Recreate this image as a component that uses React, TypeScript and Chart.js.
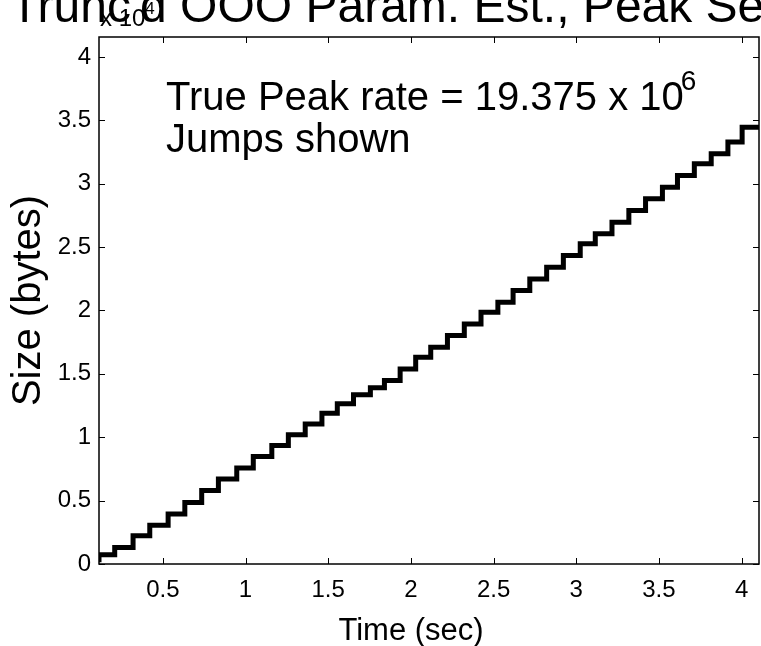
import React, { useEffect, useRef } from "react";
import { Chart, registerables } from "chart.js";

Chart.register(...registerables);

// Step times (sec) at which the cumulative size jumps
const stepTimes = [
  0.209, 0.32, 0.421, 0.532, 0.633, 0.735, 0.836, 0.947, 1.047, 1.159,
  1.259, 1.361, 1.462, 1.555, 1.653, 1.755, 1.84, 1.935, 2.029, 2.12,
  2.221, 2.323, 2.424, 2.526, 2.618, 2.719, 2.821, 2.922, 3.024, 3.115,
  3.216, 3.318, 3.419, 3.521, 3.612, 3.714, 3.816, 3.917, 4.003, 4.082,
];
// Cumulative size (bytes) after each jump
const stepSizes = [
  730, 1310, 2230, 3050, 3950, 4860, 5790, 6710, 7580, 8470,
  9340, 10200, 11050, 11890, 12650, 13350, 13900, 14470, 15390, 16310,
  17100, 18020, 18940, 19860, 20650, 21570, 22490, 23410, 24330, 25260,
  26050, 26960, 27890, 28810, 29720, 30650, 31570, 32360, 33280, 34460,
];
const startTime = 0.114;
const startSize = 130;
const endTime = 4.105;

const xTicks = [0.5, 1, 1.5, 2, 2.5, 3, 3.5, 4];
const yTicks = [0, 5000, 10000, 15000, 20000, 25000, 30000, 35000, 40000];
const yMax = 41570;

const FONT = "'Liberation Sans', Arial, Helvetica, sans-serif";

const textPlugin = {
  id: "matlabDecor",
  afterDraw(chart: any) {
    const ctx = chart.ctx;
    const { left, right, top, bottom } = chart.chartArea;
    const xs = chart.scales.x;
    const ys = chart.scales.y;
    ctx.save();
    ctx.strokeStyle = "#000";
    ctx.lineWidth = 1.5;
    ctx.strokeRect(left, top, right - left, bottom - top);
    ctx.lineWidth = 1;
    const tl = 6;
    ctx.beginPath();
    xTicks.forEach((v) => {
      const px = Math.round(xs.getPixelForValue(v)) + 0.5;
      ctx.moveTo(px, bottom);
      ctx.lineTo(px, bottom - tl);
      ctx.moveTo(px, top);
      ctx.lineTo(px, top + tl);
    });
    yTicks.forEach((v) => {
      const py = Math.round(ys.getPixelForValue(v)) + 0.5;
      ctx.moveTo(left, py);
      ctx.lineTo(left + tl, py);
      ctx.moveTo(right, py);
      ctx.lineTo(right - tl, py);
    });
    ctx.stroke();

    ctx.fillStyle = "#000";
    ctx.textBaseline = "alphabetic";
    // title (cut off at the top edge as in the reference)
    ctx.font = `48px ${FONT}`;
    ctx.textAlign = "left";
    ctx.fillText("Trunc'd OOO Param. Est., Peak Ses", 10, 22);

    // exponent label
    ctx.font = `24px ${FONT}`;
    ctx.fillText("x 10", 100, 26);
    const wx = ctx.measureText("x 10").width;
    ctx.font = `17px ${FONT}`;
    ctx.fillText("4", 100 + wx, 14);

    // annotation
    ctx.font = `40px ${FONT}`;
    const ann = "True Peak rate = 19.375 x 10";
    ctx.fillText(ann, 166, 110);
    const wa = ctx.measureText(ann).width;
    ctx.fillText("Jumps shown", 166, 152);
    ctx.font = `28px ${FONT}`;
    ctx.fillText("6", 166 + wa - 3, 90);

    // axis titles
    ctx.font = `31px ${FONT}`;
    ctx.textAlign = "center";
    ctx.fillText("Time (sec)", 411, 640);
    ctx.font = `40px ${FONT}`;
    ctx.save();
    ctx.translate(40, (top + bottom) / 2);
    ctx.rotate(-Math.PI / 2);
    ctx.fillText("Size (bytes)", 0, 0);
    ctx.restore();
    ctx.restore();
  },
};

export default function App() {
  const ref = useRef<HTMLCanvasElement | null>(null);
  useEffect(() => {
    if (!ref.current) return;
    const points = [{ x: startTime, y: startSize }];
    stepTimes.forEach((t, i) => points.push({ x: t, y: stepSizes[i] }));
    points.push({ x: endTime, y: stepSizes[stepSizes.length - 1] });
    const chart = new Chart(ref.current, {
      type: "line",
      data: {
        datasets: [
          {
            data: points,
            stepped: "after",
            borderColor: "#000",
            borderWidth: 5,
            pointRadius: 0,
            fill: false,
          },
        ],
      },
      options: {
        animation: false,
        responsive: false,
        events: [],
        layout: { padding: { top: 37, right: 2, left: 0, bottom: 0 } },
        plugins: { legend: { display: false }, tooltip: { enabled: false }, title: { display: false } },
        scales: {
          x: {
            type: "linear",
            min: startTime,
            max: endTime,
            grid: { display: false, drawTicks: false },
            border: { display: false },
            afterBuildTicks: (s: any) => {
              s.ticks = xTicks.map((v) => ({ value: v }));
            },
            afterFit: (s: any) => {
              s.height = 82;
            },
            ticks: {
              autoSkip: false,
              maxRotation: 0,
              padding: 12,
              color: "#000",
              font: { family: FONT, size: 24 },
              callback: (v: any) => String(v),
            },
          },
          y: {
            type: "linear",
            min: 0,
            max: yMax,
            grid: { display: false, drawTicks: false },
            border: { display: false },
            afterBuildTicks: (s: any) => {
              s.ticks = yTicks.map((v) => ({ value: v }));
            },
            afterFit: (s: any) => {
              s.width = 99;
            },
            ticks: {
              autoSkip: false,
              padding: 8,
              color: "#000",
              font: { family: FONT, size: 24 },
              callback: (v: any) => String(Number(v) / 10000),
            },
          },
        },
      },
      plugins: [textPlugin],
    });
    return () => chart.destroy();
  }, []);
  return (
    <div style={{ position: "fixed", left: 0, top: 0, width: 761, height: 646, background: "#fff" }}>
      <canvas ref={ref} width={761} height={646} style={{ display: "block" }} />
    </div>
  );
}
